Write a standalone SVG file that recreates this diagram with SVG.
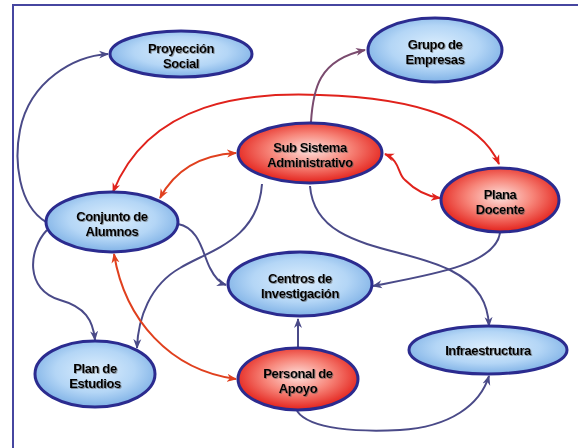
<svg xmlns="http://www.w3.org/2000/svg" width="578" height="448" viewBox="0 0 578 448">
<defs>
<radialGradient id="gb" cx="50%" cy="45%" r="55%">
<stop offset="0" stop-color="#dceefd"/>
<stop offset="0.6" stop-color="#b4d6f6"/>
<stop offset="1" stop-color="#80b2e6"/>
</radialGradient>
<radialGradient id="gr" cx="50%" cy="45%" r="55%">
<stop offset="0" stop-color="#fde2de"/>
<stop offset="0.5" stop-color="#f7867a"/>
<stop offset="1" stop-color="#e3201a"/>
</radialGradient>
<filter id="sh" x="-10%" y="-10%" width="120%" height="130%">
<feDropShadow dx="0.8" dy="0.8" stdDeviation="0.4" flood-color="#555" flood-opacity="0.7"/>
</filter>
<marker id="an" markerWidth="11" markerHeight="9" refX="9" refY="4.5" orient="auto-start-reverse" markerUnits="userSpaceOnUse">
<path d="M0,0.5 L10,4.5 L0,8.5 L3,4.5 z" fill="#4a4a88"/>
</marker>
<marker id="ar" markerWidth="11" markerHeight="9" refX="9" refY="4.5" orient="auto-start-reverse" markerUnits="userSpaceOnUse">
<path d="M0,0.5 L10,4.5 L0,8.5 L3,4.5 z" fill="#e0221c"/>
</marker>
<marker id="ao" markerWidth="11" markerHeight="9" refX="9" refY="4.5" orient="auto-start-reverse" markerUnits="userSpaceOnUse">
<path d="M0,0.5 L10,4.5 L0,8.5 L3,4.5 z" fill="#e0401e"/>
</marker>
<marker id="ap" markerWidth="11" markerHeight="9" refX="9" refY="4.5" orient="auto-start-reverse" markerUnits="userSpaceOnUse">
<path d="M0,0.5 L10,4.5 L0,8.5 L3,4.5 z" fill="#7a4a6e"/>
</marker>
</defs>
<style>
.frame{stroke:#4646a0;stroke-width:2;fill:none}
.c{fill:none;stroke-width:2}
.n{stroke:#4a4a88;marker-end:url(#an)}
.r{stroke:#e0221c;marker-start:url(#ar);marker-end:url(#ar)}
.o{stroke:#e0401e;marker-start:url(#ao);marker-end:url(#ao)}
.p{stroke:#7a4a6e;marker-end:url(#ap)}
.blue{fill:url(#gb);stroke:#2b2b8f;stroke-width:3}
.red{fill:url(#gr);stroke:#2b2b8f;stroke-width:3}
text{font-family:"Liberation Sans",Arial,sans-serif;font-weight:bold;font-size:13px;fill:#000;text-anchor:middle;letter-spacing:-0.4px;filter:url(#sh)}
</style>
<rect width="578" height="448" fill="#fff"/>
<path class="frame" d="M12,5 H578 M13,5 V448"/>
<g id="connectors">
<path class="c n" d="M46,222 C18,205 14,160 20,130 C30,80 75,56 108,54"/>
<path class="c r" d="M113,192 C150,100 250,92 320,95 C420,98 480,120 499,164"/>
<path class="c o" d="M160,198 C175,170 200,155 236,153"/>
<path class="c p" d="M311,122 C313,90 318,60 365,50"/>
<path class="c r" d="M385,154 C400,160 398,175 405,180 C415,190 425,196 440,198"/>
<path class="c n" d="M262,184 C258,240 210,250 180,268 C150,285 138,318 137,348"/>
<path class="c n" d="M178,224 C200,228 203,255 210,268 C215,278 220,283 226,285"/>
<path class="c n" d="M47,230 C28,250 25,290 60,300 C85,307 93,320 95,340"/>
<path class="c o" d="M114,254 C125,320 170,370 236,379"/>
<path class="c n" d="M310,186 C315,250 400,245 450,270 C480,285 488,305 489,326"/>
<path class="c n" d="M500,233 C495,265 430,275 373,286"/>
<path class="c n" d="M298,347 L298,319"/>
<path class="c n" d="M297,411 C310,430 360,432 400,430 C450,427 480,405 489,376"/>
</g>
<g id="proyeccion">
<ellipse class="blue" cx="181" cy="54" rx="71" ry="23"/>
<text x="181" y="53">Proyección</text>
<text x="181" y="68">Social</text>
</g>
<g id="grupo">
<ellipse class="blue" cx="435" cy="50" rx="67" ry="32"/>
<text x="435" y="49">Grupo de</text>
<text x="435" y="64">Empresas</text>
</g>
<g id="subsistema">
<ellipse class="red" cx="310" cy="153" rx="72" ry="30"/>
<text x="310" y="152">Sub Sistema</text>
<text x="310" y="167">Administrativo</text>
</g>
<g id="plana">
<ellipse class="red" cx="500" cy="200" rx="59" ry="32"/>
<text x="500" y="199">Plana</text>
<text x="500" y="214">Docente</text>
</g>
<g id="conjunto">
<ellipse class="blue" cx="112" cy="222" rx="66" ry="30"/>
<text x="112" y="221">Conjunto de</text>
<text x="112" y="236">Alumnos</text>
</g>
<g id="centros">
<ellipse class="blue" cx="300" cy="284" rx="72" ry="32"/>
<text x="300" y="283">Centros de</text>
<text x="300" y="298">Investigación</text>
</g>
<g id="plan">
<ellipse class="blue" cx="95" cy="374" rx="60" ry="33"/>
<text x="95" y="373">Plan de</text>
<text x="95" y="388">Estudios</text>
</g>
<g id="personal">
<ellipse class="red" cx="298" cy="379" rx="60" ry="31"/>
<text x="298" y="378">Personal de</text>
<text x="298" y="393">Apoyo</text>
</g>
<g id="infraestructura">
<ellipse class="blue" cx="488" cy="350" rx="79" ry="24"/>
<text x="488" y="355">Infraestructura</text>
</g>
</svg>
